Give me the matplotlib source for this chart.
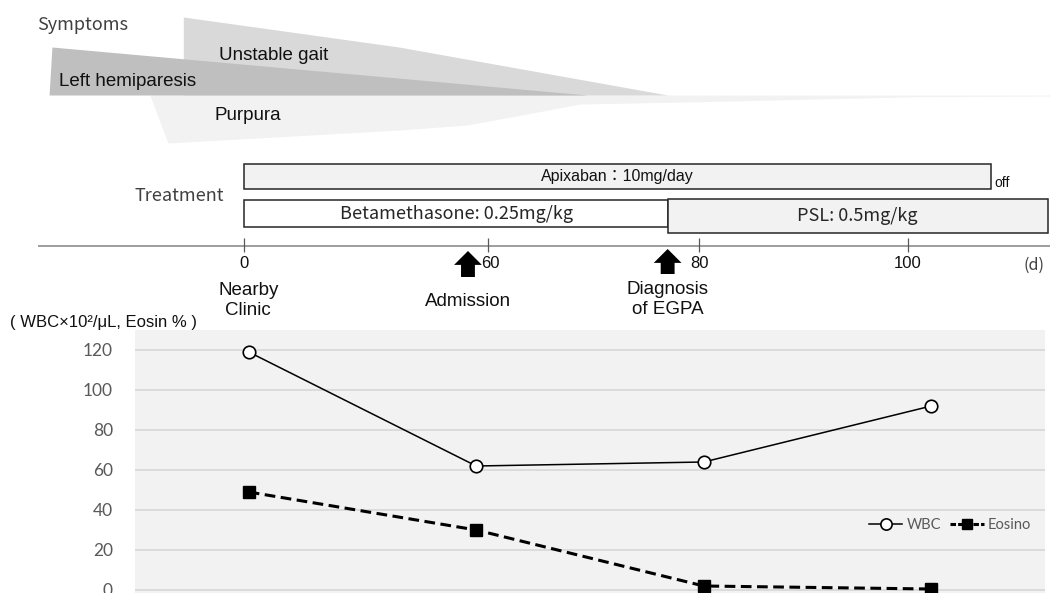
import numpy as np
import matplotlib.pyplot as plt

# Case timeline: symptoms, treatment and blood counts on one page.

W, H = 1050, 593

# Symptom bands: day and how far the band reaches from the baseline
GAIT_DAYS = [-15, 38, 77]
GAIT_SIZE = [78, 48, 0]
HEMI_DAYS = [-48, -47.3, 69.4]
HEMI_SIZE = [0, 48, 0]
PURPURA_DAYS = [-23.2, -18.8, 38.3, 54.8, 64.2, 68.7, 80, 101, 114]
PURPURA_SIZE = [0, 48, 35, 30, 18, 9, 6.7, 1.7, 1]

# Treatment periods (days)
APIXABAN = (0, 108)
BETAMETHASONE = (0, 77)
PSL = (77, 113.5)

# Events on the day axis
CLINIC_DAY = 0
ADMISSION_DAY = 55
DIAGNOSIS_DAY = 77
DAY_TICKS = [0, 60, 80, 100]

# Blood tests
VISITS = ['Nearby Clinic', 'Admission', 'Diagnosis of EGPA', 'Follow-up']
WBC = [119, 62, 64, 92]
EOSINO = [49, 30, 2, 0.5]

# The day axis is squeezed before day 60
KNOT_DAYS = [-1000, 0, 60, 80, 100, 1000]
KNOT_PX = [244.3 - 1000 * 4.067, 244.3, 488.3, 699.3, 907.7, 907.7 + 900 * 10.42]


def day_to_px(d):
    return np.interp(d, KNOT_DAYS, KNOT_PX)


def px_to_day(p):
    return np.interp(p, KNOT_PX, KNOT_DAYS)


def fig_xy(x, y):
    return x / W, 1 - y / H


ARIAL = 'Liberation Sans'
MEIRYO = ['Noto Sans CJK JP', 'DejaVu Sans']

fig = plt.figure(figsize=(W / 100, H / 100), dpi=100)
fig.patch.set_facecolor('white')

################################################################################
# Top part: symptoms and treatment, x in days, y in pixels

top = fig.add_axes([0, 0, 1, 1])
top.set_xscale('function', functions=(day_to_px, px_to_day))
top.set_xlim(px_to_day(0), px_to_day(W))
top.set_ylim(H, 0)
top.axis('off')

BASE = 95
top.fill_between(PURPURA_DAYS, BASE, BASE + np.array(PURPURA_SIZE),
                 color='#f2f2f2', lw=0)
top.fill_between(GAIT_DAYS, BASE, BASE - np.array(GAIT_SIZE),
                 color='#d9d9d9', lw=0)
top.fill_between(HEMI_DAYS, BASE, BASE - np.array(HEMI_SIZE),
                 color='#bfbfbf', lw=0)

fig.text(*fig_xy(37, 25), 'Symptoms', family=MEIRYO, fontsize=13,
         color='#404040', ha='left', va='center')
fig.text(*fig_xy(274, 56), 'Unstable gait', family=ARIAL, fontsize=13.5,
         color='#111111', ha='center', va='center')
fig.text(*fig_xy(128, 82), 'Left hemiparesis', family=ARIAL, fontsize=13.5,
         color='#111111', ha='center', va='center')
fig.text(*fig_xy(248, 116), 'Purpura', family=ARIAL, fontsize=13.5,
         color='#111111', ha='center', va='center')

fig.text(*fig_xy(179, 196), 'Treatment', family=MEIRYO, fontsize=13,
         color='#404040', ha='center', va='center')

# Treatment bars
top.barh(176.7, APIXABAN[1] - APIXABAN[0], left=APIXABAN[0], height=25.3,
         color='#f2f2f2', edgecolor='#262626', lw=1.1)
top.text(px_to_day(617), 177, 'Apixaban\uff1a10mg/day',
         family=[ARIAL, 'Noto Sans CJK JP'], fontsize=11.5, ha='center',
         va='center', color='#111111')
top.text(APIXABAN[1] + 0.3, 183, 'off', family=ARIAL, fontsize=10,
         ha='left', va='center', color='#111111')

top.barh(213.6, BETAMETHASONE[1] - BETAMETHASONE[0], left=BETAMETHASONE[0],
         height=27.3, color='white', edgecolor='#262626', lw=1.1)
top.text(px_to_day(456), 213.6, 'Betamethasone: 0.25mg/kg', family=MEIRYO,
         fontsize=13, ha='center', va='center', color='#262626')

top.barh(216.3, PSL[1] - PSL[0], left=PSL[0], height=34,
         color='#f2f2f2', edgecolor='#262626', lw=1.1)
top.text(px_to_day(857), 216.3, 'PSL: 0.5mg/kg', family=MEIRYO,
         fontsize=13, ha='center', va='center', color='#262626')

# Day axis
top.hlines(246, px_to_day(38), px_to_day(W), color='#8c8c8c', lw=1.2)
top.vlines(DAY_TICKS, 238, 252, color='#595959', lw=0.9)
for d in DAY_TICKS:
    x = d
    if d == 60:
        x = px_to_day(490)
    top.text(x, 264, str(d), family=ARIAL, fontsize=12, ha='center',
             va='center', color='#111111')
top.text(px_to_day(1034), 265, '(d)', family=MEIRYO, fontsize=11.5,
         ha='center', va='center', color='#404040')

# Event arrows and labels
arrow = dict(arrowstyle='simple,head_length=1.0,head_width=2.0,tail_width=1.0',
             fc='black', ec='black', lw=0, shrinkA=0, shrinkB=0,
             mutation_scale=10)
top.annotate('', xy=(ADMISSION_DAY, 251), xytext=(ADMISSION_DAY, 277),
             arrowprops=arrow)
top.annotate('', xy=(DIAGNOSIS_DAY, 249), xytext=(DIAGNOSIS_DAY, 274),
             arrowprops=arrow)

top.text(CLINIC_DAY + 1, 300.5, 'Nearby\nClinic', family=ARIAL, fontsize=13.5,
         ha='center', va='center', color='#111111', linespacing=1.3)
top.text(ADMISSION_DAY, 302, 'Admission', family=ARIAL, fontsize=13.5,
         ha='center', va='center', color='#111111')
top.text(DIAGNOSIS_DAY, 299.5, 'Diagnosis\nof EGPA', family=ARIAL, fontsize=13.5,
         ha='center', va='center', color='#111111', linespacing=1.3)

################################################################################
# Bottom part: WBC and eosinophils

fig.text(*fig_xy(10, 323), '( WBC\u00d710\u00b2/\u03bcL, Eosin % )', family=ARIAL,
         fontsize=12, ha='left', va='center', color='#111111')

ax = fig.add_axes([135 / W, 0, 910 / W, 263 / H])
ax.set_facecolor('#f2f2f2')
x = np.arange(len(VISITS))
ax.plot(x, WBC, color='black', lw=1.1, marker='o', markersize=9,
        markerfacecolor='white', markeredgecolor='black', markeredgewidth=1.2,
        label='WBC', zorder=3)
ax.plot(x, EOSINO, color='black', lw=2.2, linestyle=(0, (3.5, 1.8)), marker='s',
        markersize=8, markerfacecolor='black', markeredgecolor='black',
        label='Eosino', zorder=3)

ax.set_xlim(-0.5, len(VISITS) - 0.5)
ax.set_ylim(-1.5, 130)
ax.set_xticks([])
ax.set_yticks(range(0, 121, 20))
ax.tick_params(axis='y', length=0, pad=16, labelsize=12.5, labelcolor='#595959')
for label in ax.get_yticklabels():
    label.set_family('Lato')
ax.yaxis.grid(True, color='#d9d9d9', lw=1.3)
ax.set_axisbelow(True)
for side in ax.spines.values():
    side.set_visible(False)

leg = ax.legend(loc='center right', bbox_to_anchor=(0.985, 0.2586), ncol=2,
                frameon=False, borderaxespad=0, borderpad=0, markerscale=0.9,
                handlelength=2.3, handletextpad=0.3, columnspacing=0.6,
                prop={'family': 'Lato', 'size': 10.5}, labelcolor='#595959')
# short dashes so the legend key reads as "-■-"
leg.get_lines()[1].set_linestyle((0, (1.8, 0.7)))

fig.savefig('out.png', dpi=100)
